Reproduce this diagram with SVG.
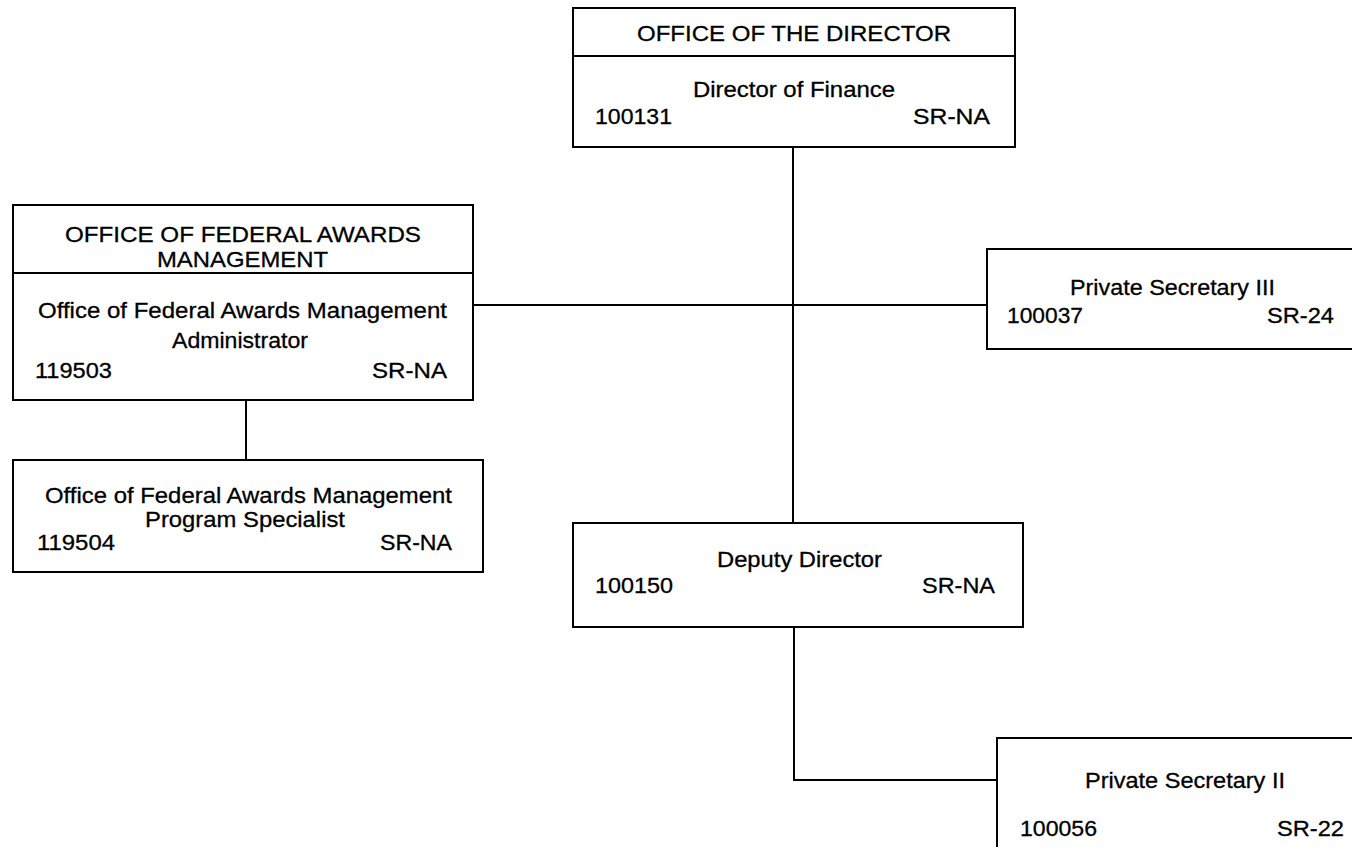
<svg xmlns="http://www.w3.org/2000/svg" width="1352" height="847" viewBox="0 0 1352 847">
  <style>
    .box { fill: #ffffff; stroke: #000000; stroke-width: 2; }
    .div { stroke: #000000; stroke-width: 2; }
    .t { font-family: "Liberation Sans", Arial, sans-serif; font-size: 22px; fill: #000000; stroke: #000000; stroke-width: 0.3; }
    .wire { fill: none; stroke: #000000; stroke-width: 2; }
  </style>
  <rect x="0" y="0" width="1352" height="847" fill="#ffffff"/>

  <!-- reporting lines -->
  <g id="connectors">
    <path class="wire" d="M793 147 V523"/>
    <path class="wire" d="M473 305 H987"/>
    <path class="wire" d="M246 400 V460"/>
    <path class="wire" d="M794 627 V780 H997"/>
  </g>

  <g id="office-of-the-director">
    <rect class="box" x="573" y="8" width="442" height="139"/>
    <line class="div" x1="573" y1="56" x2="1015" y2="56"/>
    <text class="t" x="637" y="41" textLength="314" lengthAdjust="spacingAndGlyphs">OFFICE OF THE DIRECTOR</text>
    <text class="t" x="693" y="97" textLength="202" lengthAdjust="spacingAndGlyphs">Director of Finance</text>
    <text class="t" x="595" y="124" textLength="77" lengthAdjust="spacingAndGlyphs">100131</text>
    <text class="t" x="913" y="124" textLength="77" lengthAdjust="spacingAndGlyphs">SR-NA</text>
  </g>

  <g id="federal-awards-administrator">
    <rect class="box" x="13" y="205" width="460" height="195"/>
    <line class="div" x1="13" y1="273" x2="473" y2="273"/>
    <text class="t" x="65" y="242" textLength="356" lengthAdjust="spacingAndGlyphs">OFFICE OF FEDERAL AWARDS</text>
    <text class="t" x="157" y="267" textLength="171" lengthAdjust="spacingAndGlyphs">MANAGEMENT</text>
    <text class="t" x="38" y="318" textLength="409" lengthAdjust="spacingAndGlyphs">Office of Federal Awards Management</text>
    <text class="t" x="172" y="348" textLength="136" lengthAdjust="spacingAndGlyphs">Administrator</text>
    <text class="t" x="35" y="378" textLength="77" lengthAdjust="spacingAndGlyphs">119503</text>
    <text class="t" x="372" y="378" textLength="75" lengthAdjust="spacingAndGlyphs">SR-NA</text>
  </g>

  <g id="federal-awards-specialist">
    <rect class="box" x="13" y="460" width="470" height="112"/>
    <text class="t" x="45" y="503" textLength="407" lengthAdjust="spacingAndGlyphs">Office of Federal Awards Management</text>
    <text class="t" x="145" y="527" textLength="200" lengthAdjust="spacingAndGlyphs">Program Specialist</text>
    <text class="t" x="37" y="550" textLength="78" lengthAdjust="spacingAndGlyphs">119504</text>
    <text class="t" x="380" y="550" textLength="72" lengthAdjust="spacingAndGlyphs">SR-NA</text>
  </g>

  <g id="private-secretary-iii">
    <rect class="box" x="987" y="249" width="380" height="100"/>
    <text class="t" x="1070" y="295" textLength="205" lengthAdjust="spacingAndGlyphs">Private Secretary III</text>
    <text class="t" x="1007" y="323" textLength="76" lengthAdjust="spacingAndGlyphs">100037</text>
    <text class="t" x="1267" y="323" textLength="67" lengthAdjust="spacingAndGlyphs">SR-24</text>
  </g>

  <g id="deputy-director">
    <rect class="box" x="573" y="523" width="450" height="104"/>
    <text class="t" x="717" y="567" textLength="165" lengthAdjust="spacingAndGlyphs">Deputy Director</text>
    <text class="t" x="595" y="593" textLength="78" lengthAdjust="spacingAndGlyphs">100150</text>
    <text class="t" x="922" y="593" textLength="73" lengthAdjust="spacingAndGlyphs">SR-NA</text>
  </g>

  <g id="private-secretary-ii">
    <rect class="box" x="997" y="738" width="370" height="130"/>
    <text class="t" x="1085" y="788" textLength="200" lengthAdjust="spacingAndGlyphs">Private Secretary II</text>
    <text class="t" x="1020" y="836" textLength="77" lengthAdjust="spacingAndGlyphs">100056</text>
    <text class="t" x="1277" y="836" textLength="67" lengthAdjust="spacingAndGlyphs">SR-22</text>
  </g>
</svg>
